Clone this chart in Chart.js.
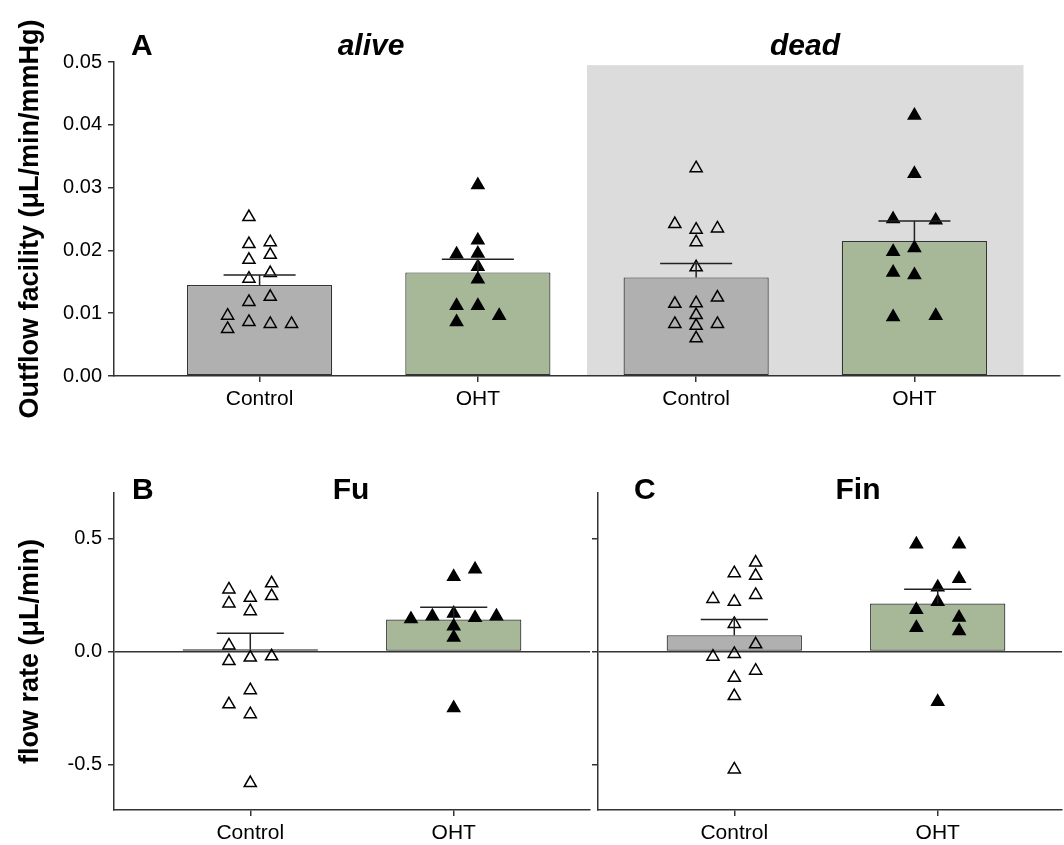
<!DOCTYPE html>
<html>
<head>
<meta charset="utf-8">
<script src="https://cdn.jsdelivr.net/npm/chart.js@4.4.1/dist/chart.umd.min.js"></script>
<style>
  html, body { margin: 0; padding: 0; background: #ffffff; overflow: hidden; }
  #wrap { position: relative; width: 1064px; height: 845px; }
  canvas { position: absolute; }
  .lbl { position: absolute; font-family: 'Liberation Sans', Arial, sans-serif; font-weight: bold;
         font-size: 30px; line-height: 30px; color: #000; white-space: nowrap; }
  .ctr { text-align: center; width: 200px; }
  .it { font-style: italic; }
</style>
</head>
<body>
<div id="wrap">
  <canvas id="cA" width="1064" height="430" style="left:0;top:0;width:1064px;height:430px"></canvas>
  <canvas id="cB" width="592" height="405" style="left:0;top:440px;width:592px;height:405px"></canvas>
  <canvas id="cC" width="524" height="405" style="left:540px;top:440px;width:524px;height:405px"></canvas>
  <div class="lbl" style="left:131px;top:30px">A</div>
  <div class="lbl ctr it" style="left:271px;top:30px">alive</div>
  <div class="lbl ctr it" style="left:705px;top:30px">dead</div>
  <div class="lbl" style="left:132px;top:474px">B</div>
  <div class="lbl ctr" style="left:251px;top:474px">Fu</div>
  <div class="lbl" style="left:634px;top:474px">C</div>
  <div class="lbl ctr" style="left:758px;top:474px">Fin</div>
</div>
<script>
// ---------------- DATA ----------------
const categoriesA = ['Control', 'OHT', 'Control', 'OHT'];
const conditionsA = ['alive', 'dead'];
const categoriesBC = ['Control', 'OHT'];
const ticksA = [0, 0.01, 0.02, 0.03, 0.04, 0.05];
const ticksBC = [-0.5, 0, 0.5];

// Panel A: outflow facility (µL/min/mmHg)
const meanA = [0.0145, 0.0165, 0.0157, 0.0215];
const semA  = [0.0016, 0.0021, 0.0022, 0.0032];
const aliveControl     = [0.0253, 0.0210, 0.0213, 0.0185, 0.0193, 0.0155, 0.0164, 0.0118, 0.0126, 0.0096, 0.0075, 0.0086, 0.0083, 0.0083];
const aliveControlSlot = [-0.5, -0.5, 0.5, -0.5, 0.5, -0.5, 0.5, -0.5, 0.5, -1.5, -1.5, -0.5, 0.5, 1.5];
const aliveOHT         = [0.0304, 0.0216, 0.0194, 0.0195, 0.0174, 0.0154, 0.0112, 0.0112, 0.0096, 0.0086];
const aliveOHTSlot     = [0, 0, -1, 0, 0, 0, -1, 0, 1, -1];
const deadControl      = [0.0331, 0.0242, 0.0235, 0.0233, 0.0213, 0.0173, 0.0115, 0.0116, 0.0125, 0.0097, 0.0083, 0.0083, 0.0080, 0.0060];
const deadControlSlot  = [0, -1, 1, 0, 0, 0, -1, 0, 1, 0, -1, 1, 0, 0];
const deadOHT          = [0.0415, 0.0322, 0.0250, 0.0248, 0.0198, 0.0204, 0.0165, 0.0161, 0.0094, 0.0096];
const deadOHTSlot      = [0, 0, -1, 1, -1, 0, -1, 0, -1, 1];

// Panel B: Fu flow rate (µL/min)
const meanB = [0.010, 0.141];
const semB  = [0.071, 0.054];
const fuControl     = [0.301, 0.274, 0.245, 0.237, 0.212, 0.178, 0.027, -0.042, -0.027, -0.021, -0.171, -0.233, -0.277, -0.581];
const fuControlSlot = [1, -1, 1, 0, -1, 0, -1, -1, 0, 1, 0, -1, 0, 0];
const fuOHT         = [0.363, 0.330, 0.143, 0.156, 0.168, 0.149, 0.156, 0.112, 0.062, -0.250];
const fuOHTSlot     = [1, 0, -2, -1, 0, 1, 2, 0, 0, 0];

// Panel C: Fin flow rate (µL/min)
const meanC = [0.072, 0.212];
const semC  = [0.069, 0.063];
const finControl     = [0.393, 0.346, 0.334, 0.232, 0.220, 0.250, 0.122, 0.032, -0.023, -0.011, -0.085, -0.116, -0.197, -0.521];
const finControlSlot = [1, 0, 1, -1, 0, 1, 0, 1, -1, 0, 1, 0, 0, 0];
const finOHT         = [0.474, 0.474, 0.321, 0.284, 0.184, 0.220, 0.105, 0.150, 0.091, -0.222];
const finOHTSlot     = [-1, 1, 1, 0, -1, 0, -1, 1, 1, 0];

// ---------------- STYLE ----------------
const FONT = "'Liberation Sans', Arial, Helvetica, sans-serif";
const GRAY = '#b0b0b0', GREEN = '#a6b897', SHADE = '#dcdcdc', INK = '#222222';

const errorBars = {
  id: 'errorBars',
  afterDatasetsDraw(chart, args, o) {
    const { ctx, scales: { x, y } } = chart;
    ctx.save();
    ctx.strokeStyle = INK; ctx.lineWidth = 1.5;
    o.means.forEach((m, i) => {
      const px = x.getPixelForValue(i);
      const half = x.getPixelForValue(i + o.cap / 2) - px;
      const y0 = y.getPixelForValue(m), y1 = y.getPixelForValue(m + o.sems[i]);
      ctx.beginPath();
      ctx.moveTo(px, y0); ctx.lineTo(px, y1);
      ctx.moveTo(px - half, y1); ctx.lineTo(px + half, y1);
      ctx.stroke();
    });
    ctx.restore();
  }
};

const shade = {
  id: 'shade',
  beforeDraw(chart, args, o) {
    if (!o || !o.on) return;
    const { ctx, scales: { x, y } } = chart;
    const x0 = x.getPixelForValue(o.from), x1 = x.getPixelForValue(o.to);
    const yt = y.getPixelForValue(o.top), yb = y.getPixelForValue(0);
    ctx.save(); ctx.fillStyle = SHADE; ctx.fillRect(x0, yt, x1 - x0, yb - yt); ctx.restore();
  }
};

function pointSet(values, slots, center, slotW, filled) {
  return {
    type: 'scatter',
    data: values.map((v, k) => ({ x: center + slots[k] * slotW, y: v })),
    pointStyle: 'triangle',
    pointRadius: 7,
    borderWidth: 1.5,
    borderColor: '#000',
    backgroundColor: filled ? '#000' : 'rgba(0,0,0,0)',
    order: 1
  };
}

function makeChart(id, cfg) {
  const tickFont = { family: FONT, size: 20 };
  return new Chart(document.getElementById(id), {
    type: 'bar',
    data: {
      datasets: [
        {
          type: 'bar',
          data: cfg.means.map((m, i) => ({ x: i, y: m })),
          backgroundColor: cfg.means.map((m, i) => cfg.cats[i] === 'Control' ? GRAY : GREEN),
          borderColor: '#333',
          borderWidth: 1.2,
          borderSkipped: false,
          barPercentage: 0.665,
          categoryPercentage: 1,
          order: 2
        },
        ...cfg.points
      ]
    },
    options: {
      responsive: false,
      animation: false,
      events: [],
      devicePixelRatio: 1,
      layout: { padding: cfg.padding, autoPadding: false },
      plugins: {
        legend: { display: false },
        tooltip: { enabled: false },
        errorBars: { means: cfg.means, sems: cfg.sems, cap: 0.33 },
        shade: cfg.shade || { on: false }
      },
      scales: {
        x: {
          type: 'linear',
          offset: false,
          min: cfg.xmin, max: cfg.xmax,
          afterBuildTicks: s => { s.ticks = cfg.cats.map((c, i) => ({ value: i })); },
          afterFit: s => { s.height = cfg.xh; s.paddingLeft = 0; s.paddingRight = 0; },
          grid: { offset: false, drawOnChartArea: false, drawTicks: true, tickLength: 6, tickColor: '#333', lineWidth: 1.5 },
          border: { display: true, color: '#333', width: 1.5 },
          ticks: { color: '#000', font: { family: FONT, size: 21 }, padding: 5, autoSkip: false, maxRotation: 0,
                   callback: v => cfg.cats[Math.round(v)] }
        },
        y: {
          min: cfg.ymin, max: cfg.ymax,
          afterBuildTicks: s => { s.ticks = cfg.yt.map(v => ({ value: v })); },
          afterFit: s => { s.width = cfg.yw; },
          grid: {
            drawOnChartArea: !!cfg.zeroLine,
            color: c => (cfg.zeroLine && c.tick && c.tick.value === 0) ? '#333' : 'rgba(0,0,0,0)',
            lineWidth: 1.5, tickLength: 6, tickColor: '#333'
          },
          border: { display: true, color: '#333', width: 1.5 },
          ticks: { color: '#000', font: tickFont, padding: 6,
                   callback: v => cfg.ylabels ? v.toFixed(cfg.dec) : '' },
          title: cfg.ytitle ? { display: true, text: cfg.ytitle, color: '#000',
                   font: { family: FONT, size: 27, weight: 'bold' }, padding: { top: 14, bottom: 0 } } : { display: false }
        }
      }
    },
    plugins: [errorBars, shade]
  });
}

const slotA = 0.0976, slotBC = 0.105;
makeChart('cA', {
  cats: categoriesA, means: meanA, sems: semA,
  points: [
    pointSet(aliveControl, aliveControlSlot, 0, slotA, false),
    pointSet(aliveOHT, aliveOHTSlot, 1, slotA, true),
    pointSet(deadControl, deadControlSlot, 2, slotA, false),
    pointSet(deadOHT, deadOHTSlot, 3, slotA, true)
  ],
  xmin: -0.667, xmax: 3.667, ymin: 0, ymax: 0.05, yt: ticksA, dec: 2, ylabels: true,
  ytitle: 'Outflow facility (μL/min/mmHg)',
  padding: { top: 62, right: 4, left: 0, bottom: 0 }, xh: 54, yw: 114,
  shade: { on: true, from: 1.5, to: 3.5, top: 0.0495 }
});
makeChart('cB', {
  cats: categoriesBC, means: meanB, sems: semB,
  points: [
    pointSet(fuControl, fuControlSlot, 0, slotBC, false),
    pointSet(fuOHT, fuOHTSlot, 1, slotBC, true)
  ],
  xmin: -0.67, xmax: 1.67, ymin: -0.7, ymax: 0.7, yt: ticksBC, dec: 1, ylabels: true, zeroLine: true,
  ytitle: 'flow rate (μL/min)',
  padding: { top: 53, right: 2, left: 0, bottom: 0 }, xh: 35, yw: 114
});
makeChart('cC', {
  cats: categoriesBC, means: meanC, sems: semC,
  points: [
    pointSet(finControl, finControlSlot, 0, slotBC, false),
    pointSet(finOHT, finOHTSlot, 1, slotBC, true)
  ],
  xmin: -0.67, xmax: 1.611, ymin: -0.7, ymax: 0.7, yt: ticksBC, dec: 1, ylabels: false, zeroLine: true,
  padding: { top: 53, right: 2, left: 0, bottom: 0 }, xh: 35, yw: 58
});
</script>
</body>
</html>
